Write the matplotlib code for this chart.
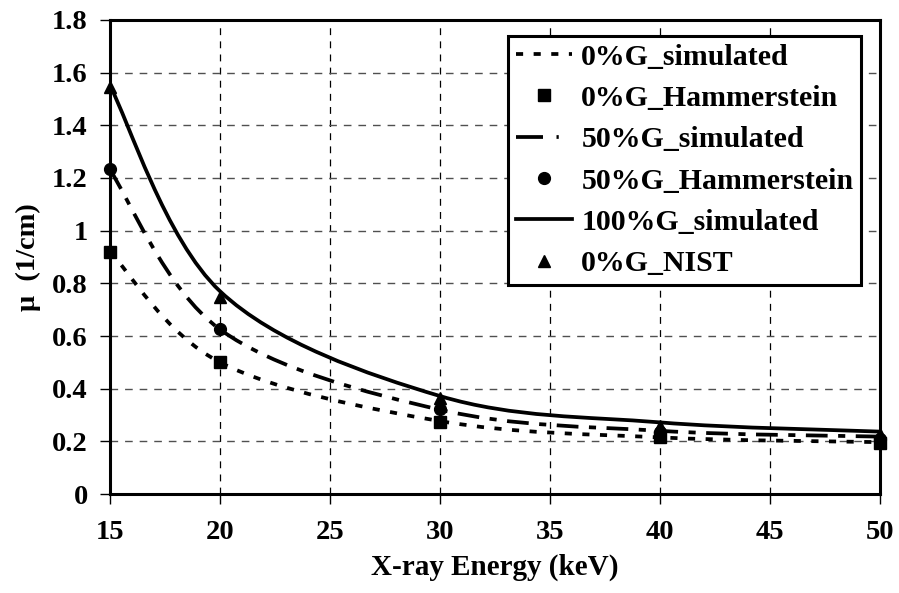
import numpy as np
import matplotlib
matplotlib.use('Agg')
import matplotlib.pyplot as plt
from matplotlib.path import Path
from matplotlib.patches import PathPatch
from matplotlib.lines import Line2D

plt.rcParams['font.family'] = 'Liberation Serif'
plt.rcParams['font.weight'] = 'bold'

# data
energy = [15, 20, 30, 40, 50]
sim_0 = [0.92, 0.50, 0.277, 0.215, 0.197]
ham_0 = [0.92, 0.50, 0.273, 0.215, 0.194]
sim_50 = [1.23, 0.625, 0.32, 0.24, 0.218]
ham_50 = [1.235, 0.625, 0.323, 0.235, 0.21]
sim_100 = [1.55, 0.77, 0.372, 0.272, 0.237]
nist_0 = [1.545, 0.75, 0.365, 0.26, 0.228]
labels = ['0%G_simulated', '0%G_Hammerstein', '50%G_simulated',
          '50%G_Hammerstein', '100%G_simulated', '0%G_NIST']


def smooth_path(x, y):
    # excel style smoothed line: bezier segments through the points
    p = np.column_stack([x, y]).astype(float)
    ext = np.vstack([p[0], p, p[-1]])
    verts = [p[0]]
    codes = [Path.MOVETO]
    for i in range(len(p) - 1):
        p0, p1, p2, p3 = ext[i], ext[i + 1], ext[i + 2], ext[i + 3]
        c1 = p1 + (p2 - p0) / 6.0
        c2 = p2 - (p3 - p1) / 6.0
        verts += [c1, c2, p2]
        codes += [Path.CURVE4] * 3
    return Path(verts, codes)


fig, ax = plt.subplots(figsize=(8.99, 5.93), dpi=100)
fig.subplots_adjust(left=0.1224, right=0.9789, bottom=0.1669, top=0.9663)

lw = 2.7
dot_style = (0, (1.9, 2.8))
dashdot_style = (0, (5.8, 2.8, 1.9, 2.8))

for ys, ls in [(sim_0, dot_style), (sim_50, dashdot_style), (sim_100, '-')]:
    patch = PathPatch(smooth_path(energy, ys), fill=False, edgecolor='black',
                      linewidth=lw, linestyle=ls, zorder=3, capstyle='butt')
    ax.add_patch(patch)

ax.plot(energy, ham_0, linestyle='none', marker='s', color='black', markersize=8.5, zorder=4, clip_on=False)
ax.plot(energy, ham_50, linestyle='none', marker='o', color='black', markersize=8.5, zorder=4, clip_on=False)
ax.plot(energy, nist_0, linestyle='none', marker='^', color='black', markersize=8.5, zorder=4, clip_on=False)

ax.set_xlim(15, 50)
ax.set_ylim(0, 1.8)
ax.set_xticks(np.arange(15, 51, 5))
ax.set_yticks(np.arange(0, 1.81, 0.2))
ax.set_yticklabels(['0', '0.2', '0.4', '0.6', '0.8', '1', '1.2', '1.4', '1.6', '1.8'])

ax.grid(axis='y', linestyle=(0, (5.5, 5)), color='#505050', linewidth=1.0)
ax.grid(axis='x', linestyle=(0, (5.5, 5)), color='black', linewidth=0.9)
ax.set_axisbelow(True)

for s in ax.spines.values():
    s.set_linewidth(2.2)

ax.tick_params(direction='out', length=7, width=1, labelsize=20.5)
ax.tick_params(axis='x', pad=12)
ax.tick_params(axis='y', pad=9)
for lab in ax.get_xticklabels() + ax.get_yticklabels():
    lab.set_fontweight('bold')

ax.set_xlabel('X-ray Energy (keV)', fontsize=21, fontweight='bold', labelpad=6)
ax.set_ylabel('μ  (1/cm)', fontsize=20.5, fontweight='bold', labelpad=8)

handles = [
    Line2D([], [], color='black', linewidth=lw, linestyle=dot_style),
    Line2D([], [], color='black', linestyle='none', marker='s', markersize=8.5),
    Line2D([], [], color='black', linewidth=lw, linestyle=(0, (7.2, 3.6, 0.6, 3.6))),
    Line2D([], [], color='black', linestyle='none', marker='o', markersize=8.5),
    Line2D([], [], color='black', linewidth=lw, linestyle='-'),
    Line2D([], [], color='black', linestyle='none', marker='^', markersize=8.5),
]
leg = ax.legend(handles, labels, loc='upper left', bbox_to_anchor=(0.517, 0.966),
                prop={'weight': 'bold', 'size': 21.5}, fancybox=False,
                edgecolor='black', framealpha=1, handlelength=1.9, handletextpad=0.3,
                labelspacing=0.48, borderpad=0.25, borderaxespad=0)
leg.get_frame().set_linewidth(2.2)

fig.savefig('out.png', dpi=100)
